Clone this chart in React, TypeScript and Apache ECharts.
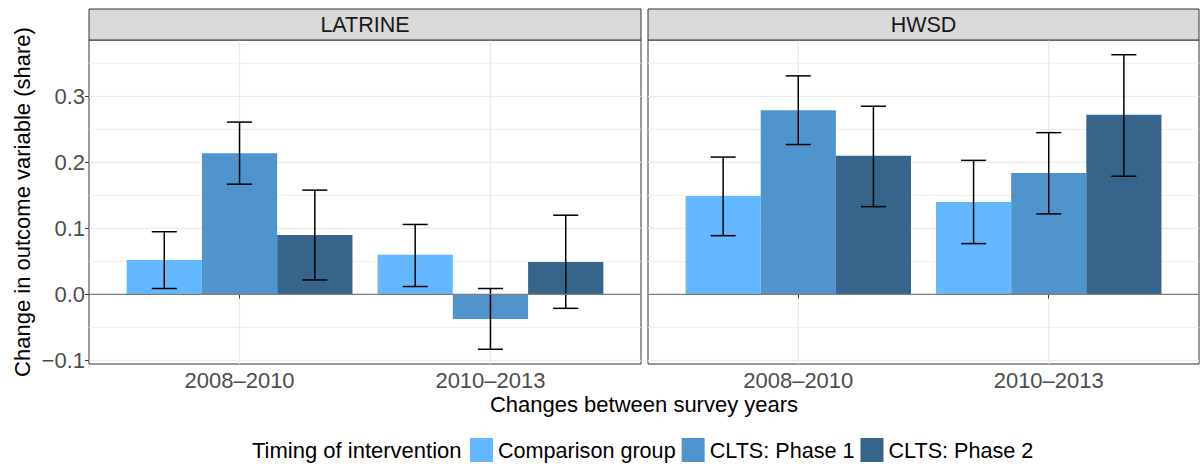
import React, { useEffect, useRef } from "react";
import * as echarts from "echarts";

// ---- data ----
const facets = ["LATRINE", "HWSD"];
const periods = ["2008–2010", "2010–2013"];
const groups = ["Comparison group", "CLTS: Phase 1", "CLTS: Phase 2"];
const groupColors = ["#63B8FF", "#4F94CD", "#36648B"];

// LATRINE: estimate, lower and upper bound per period
const latrineComparison = [0.052, 0.06];
const latrineComparisonLow = [0.009, 0.012];
const latrineComparisonHigh = [0.095, 0.106];
const latrinePhase1 = [0.214, -0.037];
const latrinePhase1Low = [0.167, -0.083];
const latrinePhase1High = [0.261, 0.009];
const latrinePhase2 = [0.09, 0.049];
const latrinePhase2Low = [0.022, -0.021];
const latrinePhase2High = [0.158, 0.12];

// HWSD
const hwsdComparison = [0.149, 0.14];
const hwsdComparisonLow = [0.089, 0.077];
const hwsdComparisonHigh = [0.208, 0.203];
const hwsdPhase1 = [0.279, 0.184];
const hwsdPhase1Low = [0.227, 0.122];
const hwsdPhase1High = [0.331, 0.245];
const hwsdPhase2 = [0.21, 0.272];
const hwsdPhase2Low = [0.133, 0.179];
const hwsdPhase2High = [0.285, 0.363];

const yTicks = [-0.1, 0, 0.1, 0.2, 0.3];
const yMinorTicks = [-0.05, 0.05, 0.15, 0.25, 0.35];
const xTicks = [1, 2];

const facetEstimates = [
  [latrineComparison, latrinePhase1, latrinePhase2],
  [hwsdComparison, hwsdPhase1, hwsdPhase2],
];
const facetLows = [
  [latrineComparisonLow, latrinePhase1Low, latrinePhase2Low],
  [hwsdComparisonLow, hwsdPhase1Low, hwsdPhase2Low],
];
const facetHighs = [
  [latrineComparisonHigh, latrinePhase1High, latrinePhase2High],
  [hwsdComparisonHigh, hwsdPhase1High, hwsdPhase2High],
];

// scale limits like ggplot (5% expansion of the data range)
const allLow = Math.min(0, ...facetLows.flat(2));
const allHigh = Math.max(...facetHighs.flat(2));
const yPad = (allHigh - allLow) * 0.05;
const yMin = allLow - yPad;
const yMax = allHigh + yPad;
const xMin = 0.4;
const xMax = 2.6;
const barUnit = 0.3;
const capUnit = 0.1;

const FONT = "'Liberation Sans', Arial, Helvetica, sans-serif";

export default function App() {
  const ref = useRef<HTMLDivElement>(null);
  useEffect(() => {
    if (!ref.current) return;
    const chart = echarts.init(ref.current, undefined, { renderer: "svg" });

    const gridLefts = [89, 648];
    const gridWidths = [552, 551];
    const gridTop = 40;
    const gridHeight = 324;

    const grids = facets.map((_, f) => ({
      left: gridLefts[f],
      top: gridTop,
      width: gridWidths[f],
      height: gridHeight,
      show: true,
      borderColor: "#333333",
      borderWidth: 1,
      backgroundColor: "transparent",
      containLabel: false,
    }));

    const xAxes = facets.map((_, f) => ({
      type: "value",
      gridIndex: f,
      min: xMin,
      max: xMax,
      axisLine: { show: false },
      splitLine: { show: false },
      axisTick: {
        show: true,
        customValues: xTicks,
        length: 4,
        lineStyle: { color: "#333333", width: 1 },
      },
      axisLabel: {
        customValues: xTicks,
        formatter: (v: number) => periods[Math.round(v) - 1] ?? "",
        color: "#4D4D4D",
        fontSize: 22,
        fontFamily: FONT,
        margin: 5,
      },
    }));

    const yAxes = facets.map((_, f) => ({
      type: "value",
      gridIndex: f,
      min: yMin,
      max: yMax,
      axisLine: { show: false },
      splitLine: { show: false },
      axisTick: {
        show: f === 0,
        customValues: yTicks,
        length: 4,
        lineStyle: { color: "#333333", width: 1 },
      },
      axisLabel: {
        show: f === 0,
        customValues: yTicks,
        formatter: (v: number) =>
          v < 0 ? "\u2212" + Math.abs(v).toFixed(1) : v.toFixed(1),
        color: "#4D4D4D",
        fontSize: 22,
        fontFamily: FONT,
        margin: 4,
      },
    }));

    const series: any[] = [];

    facets.forEach((_, f) => {
      // panel grid lines
      const gridData: number[][] = [
        ...yTicks.map((v) => [0, v, 1]),
        ...yMinorTicks.map((v) => [0, v, 0]),
        ...xTicks.map((v) => [1, v, 1]),
      ];
      series.push({
        type: "custom",
        name: "grid" + f,
        xAxisIndex: f,
        yAxisIndex: f,
        silent: true,
        z: 0,
        data: gridData,
        renderItem: (_p: any, api: any) => {
          const orient = api.value(0);
          const v = api.value(1);
          const major = api.value(2) === 1;
          const style = { stroke: "#EBEBEB", lineWidth: major ? 1.3 : 0.9 };
          let a, b;
          if (orient === 0) {
            a = api.coord([xMin, v]);
            b = api.coord([xMax, v]);
          } else {
            a = api.coord([v, yMin]);
            b = api.coord([v, yMax]);
          }
          return {
            type: "line",
            shape: { x1: a[0], y1: a[1], x2: b[0], y2: b[1] },
            style,
          };
        },
      });

      groups.forEach((g, gi) => {
        const est = facetEstimates[f][gi];
        const lo = facetLows[f][gi];
        const hi = facetHighs[f][gi];
        const color = groupColors[gi];
        series.push({
          type: "custom",
          name: g,
          xAxisIndex: f,
          yAxisIndex: f,
          z: 2,
          itemStyle: { color },
          encode: { x: 0, y: [1, 2, 3] },
          data: periods.map((_p, i) => [i + 1, est[i], lo[i], hi[i]]),
          renderItem: (_p: any, api: any) => {
            const x = api.value(0);
            const v = api.value(1);
            const l = api.value(2);
            const h = api.value(3);
            const c = x + (gi - 1) * barUnit;
            const p0 = api.coord([c - barUnit / 2, 0]);
            const p1 = api.coord([c + barUnit / 2, v]);
            const top = api.coord([c, h]);
            const bot = api.coord([c, l]);
            const capL = api.coord([c - capUnit / 2, h])[0];
            const capR = api.coord([c + capUnit / 2, h])[0];
            const es = { stroke: "#000000", lineWidth: 1.5 };
            return {
              type: "group",
              children: [
                {
                  type: "rect",
                  shape: {
                    x: p0[0],
                    y: Math.min(p0[1], p1[1]),
                    width: p1[0] - p0[0],
                    height: Math.abs(p1[1] - p0[1]),
                  },
                  style: { fill: color },
                },
                {
                  type: "line",
                  shape: { x1: top[0], y1: top[1], x2: bot[0], y2: bot[1] },
                  style: es,
                },
                {
                  type: "line",
                  shape: { x1: capL, y1: top[1], x2: capR, y2: top[1] },
                  style: es,
                },
                {
                  type: "line",
                  shape: { x1: capL, y1: bot[1], x2: capR, y2: bot[1] },
                  style: es,
                },
              ],
            };
          },
        });
      });

      // reference line at zero
      series.push({
        type: "line",
        name: "zero" + f,
        xAxisIndex: f,
        yAxisIndex: f,
        z: 3,
        silent: true,
        symbol: "none",
        data: [
          [xMin, 0],
          [xMax, 0],
        ],
        lineStyle: { color: "#7F7F7F", width: 1.2 },
      });
    });

    const graphic: any[] = [];
    facets.forEach((name, f) => {
      graphic.push({
        type: "rect",
        shape: { x: gridLefts[f], y: 9, width: gridWidths[f], height: 31 },
        style: { fill: "#D9D9D9", stroke: "#333333", lineWidth: 1 },
        z: 10,
      });
      graphic.push({
        type: "text",
        x: gridLefts[f] + gridWidths[f] / 2,
        y: 25,
        style: {
          text: name,
          fill: "#1A1A1A",
          fontSize: 21.5,
          fontFamily: FONT,
          textAlign: "center",
          textVerticalAlign: "middle",
        },
        z: 11,
      });
    });
    graphic.push({
      type: "text",
      x: 644,
      y: 404,
      style: {
        text: "Changes between survey years",
        fill: "#000000",
        fontSize: 22,
        fontFamily: FONT,
        textAlign: "center",
        textVerticalAlign: "middle",
      },
    });
    graphic.push({
      type: "text",
      x: 22,
      y: gridTop + gridHeight / 2,
      rotation: Math.PI / 2,
      style: {
        text: "Change in outcome variable (share)",
        fill: "#000000",
        fontSize: 22,
        fontFamily: FONT,
        textAlign: "center",
        textVerticalAlign: "middle",
      },
    });
    graphic.push({
      type: "text",
      x: 252,
      y: 450,
      style: {
        text: "Timing of intervention",
        fill: "#000000",
        fontSize: 22,
        fontFamily: FONT,
        textAlign: "left",
        textVerticalAlign: "middle",
      },
    });

    chart.setOption({
      animation: false,
      backgroundColor: "#FFFFFF",
      grid: grids,
      xAxis: xAxes,
      yAxis: yAxes,
      legend: {
        data: groups,
        left: 470,
        top: 438,
        padding: 0,
        itemWidth: 23,
        itemHeight: 24,
        itemGap: 6,
        icon: "rect",
        selectedMode: false,
        textStyle: { fontSize: 21.6, color: "#000000", fontFamily: FONT },
      },
      graphic,
      series,
    });

    return () => chart.dispose();
  }, []);

  return (
    <div
      ref={ref}
      style={{ position: "fixed", left: 0, top: 0, width: 1200, height: 464 }}
    />
  );
}
